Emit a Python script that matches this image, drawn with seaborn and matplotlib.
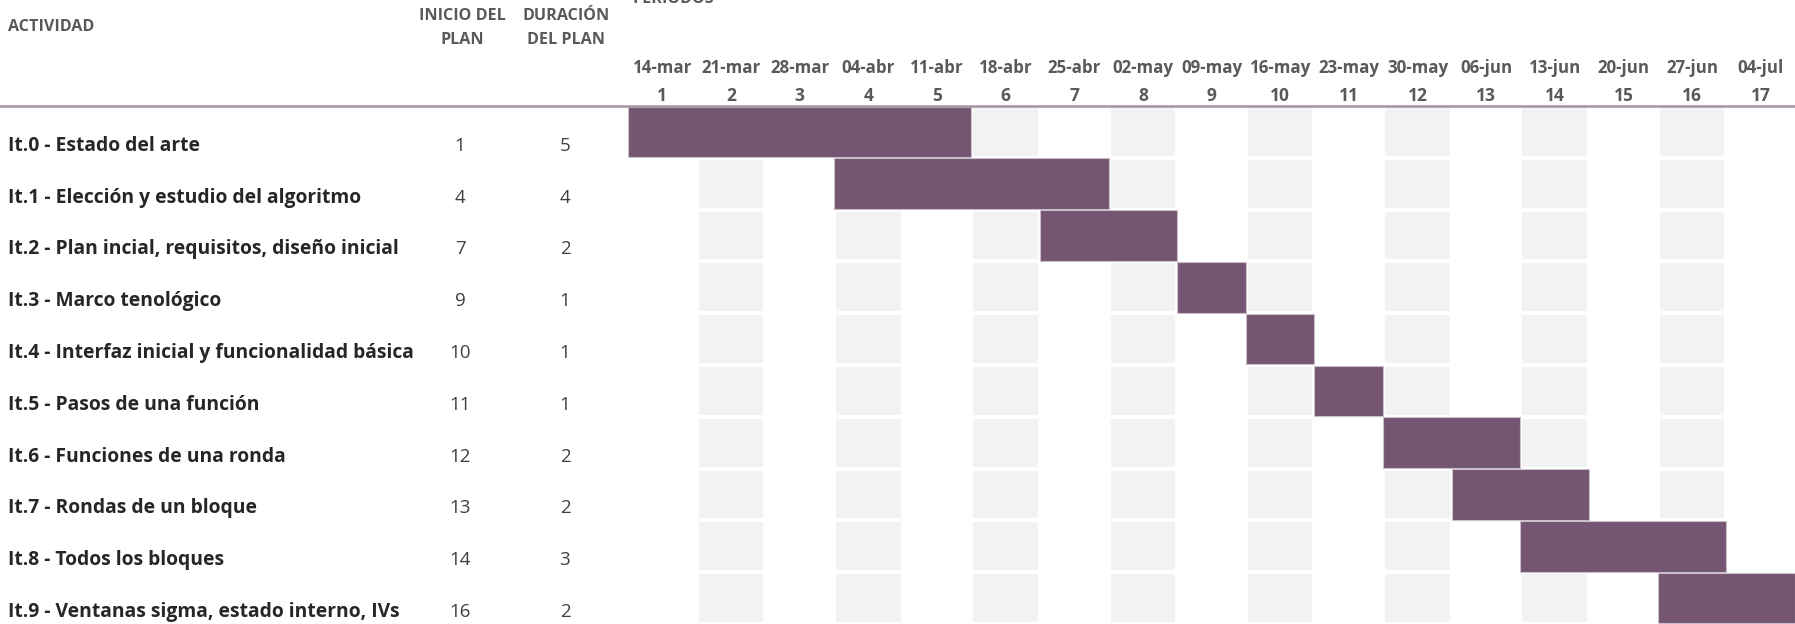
import numpy as np
import matplotlib
matplotlib.use('Agg')
import matplotlib.pyplot as plt
import seaborn as sns
from matplotlib.colors import ListedColormap
from matplotlib.lines import Line2D
from matplotlib.transforms import blended_transform_factory

# Datos del plan
actividades = [
    'It.0 - Estado del arte',
    'It.1 - Elección y estudio del algoritmo',
    'It.2 - Plan incial, requisitos, diseño inicial',
    'It.3 - Marco tenológico',
    'It.4 - Interfaz inicial y funcionalidad básica',
    'It.5 - Pasos de una función',
    'It.6 - Funciones de una ronda',
    'It.7 - Rondas de un bloque',
    'It.8 - Todos los bloques',
    'It.9 - Ventanas sigma, estado interno, IVs',
]
inicio = [1, 4, 7, 9, 10, 11, 12, 13, 14, 16]
duracion = [5, 4, 2, 1, 1, 1, 2, 2, 3, 2]

fechas = ['14-mar', '21-mar', '28-mar', '04-abr', '11-abr', '18-abr', '25-abr', '02-may',
          '09-may', '16-may', '23-may', '30-may', '06-jun', '13-jun', '20-jun', '27-jun', '04-jul']
periodos = list(range(1, 18))

sns.set_style('white')
plt.rcParams['font.family'] = ['Open Sans', 'DejaVu Sans']

W, H = 1795, 624
x0, top = 628, 106
color_barra = '#745672'
gris_texto = '#595959'

fig = plt.figure(figsize=(W / 100, H / 100), dpi=100)
ax = fig.add_axes([x0 / W, 0, 1 - x0 / W, 1 - top / H])

# Fondo de columnas alternas
n, m = len(actividades), len(periodos)
fondo = np.array([[1 if p % 2 == 0 else 0 for p in periodos] for _ in actividades])
sns.heatmap(fondo, ax=ax, cmap=ListedColormap(['#ffffff', '#f2f2f2']), vmin=0, vmax=1,
            cbar=False, linewidths=1.5, linecolor='white', xticklabels=False, yticklabels=False)

# Barras de Gantt
ax.barh(np.arange(n) + 0.5, duracion, left=np.array(inicio) - 1, height=0.98,
        color=color_barra, edgecolor='#cbbfca', linewidth=0.8, zorder=3)
ax.set_xlim(0, m)
ax.set_ylim(n, 0)
ax.axis('off')

# Tabla de la izquierda
tr_filas = blended_transform_factory(fig.transFigure, ax.transData)
for i, (act, ini, dur) in enumerate(zip(actividades, inicio, duracion)):
    ax.text(8 / W, i + 0.77, act, transform=tr_filas, fontsize=13.9, fontweight='bold',
            color='#262626', ha='left', va='center')
    ax.text(460 / W, i + 0.77, str(ini), transform=tr_filas, fontsize=13.5,
            color='#404040', ha='center', va='center')
    ax.text(565 / W, i + 0.77, str(dur), transform=tr_filas, fontsize=13.5,
            color='#404040', ha='center', va='center')

# Encabezados
fs_h = 11.6
fig.text(8 / W, 1 - 27 / H, 'ACTIVIDAD', fontsize=fs_h, fontweight='bold', color=gris_texto,
         ha='left', va='center')
fig.text(462 / W, 1 - 16 / H, 'INICIO DEL', fontsize=fs_h, fontweight='bold', color=gris_texto,
         ha='center', va='center')
fig.text(462 / W, 1 - 40 / H, 'PLAN', fontsize=fs_h, fontweight='bold', color=gris_texto,
         ha='center', va='center')
fig.text(566 / W, 1 - 16 / H, 'DURACIÓN', fontsize=fs_h, fontweight='bold', color=gris_texto,
         ha='center', va='center')
fig.text(566 / W, 1 - 40 / H, 'DEL PLAN', fontsize=fs_h, fontweight='bold', color=gris_texto,
         ha='center', va='center')
fig.text(633 / W, 1 - 3 / H, 'PERÍODOS', fontsize=fs_h, fontweight='bold', color=gris_texto,
         ha='left', va='baseline')

tr_cols = blended_transform_factory(ax.transData, fig.transFigure)
for j, (f, p) in enumerate(zip(fechas, periodos)):
    ax.text(j + 0.5, 1 - 68 / H, f, transform=tr_cols, fontsize=12.2, fontweight='bold',
            color=gris_texto, ha='center', va='center')
    ax.text(j + 0.5, 1 - 96 / H, str(p), transform=tr_cols, fontsize=12.5, fontweight='bold',
            color=gris_texto, ha='center', va='center')

fig.add_artist(Line2D([0, 1], [1 - top / H, 1 - top / H], transform=fig.transFigure,
                      color='#a392a1', linewidth=1.8))

fig.savefig('out.png', dpi=100)
